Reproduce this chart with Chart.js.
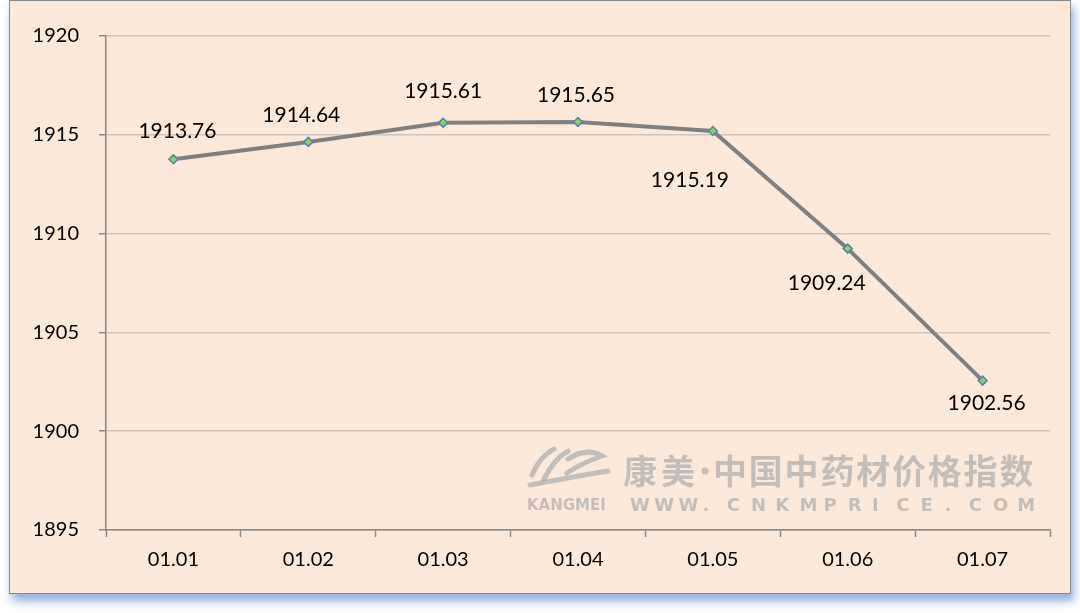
<!DOCTYPE html>
<html><head><meta charset="utf-8">
<script src="https://cdn.jsdelivr.net/npm/chart.js@4.4.1/dist/chart.umd.min.js"></script>
<style>
html,body{margin:0;padding:0;background:#fff;width:1080px;height:613px;overflow:hidden;}
#box{position:absolute;left:9px;top:0px;width:1060px;height:592px;border:1px solid #8a8a8a;background:#fde9d9;box-shadow:3px 7px 9px rgba(70,120,200,0.6);}
canvas{display:block;}
</style></head>
<body>
<div id="box"><canvas id="c" width="1060" height="592"></canvas></div>
<script>
const categories = ['01.01','01.02','01.03','01.04','01.05','01.06','01.07'];
const values = [1913.76, 1914.64, 1915.61, 1915.65, 1915.19, 1909.24, 1902.56];
const valueLabels = ['1913.76','1914.64','1915.61','1915.65','1915.19','1909.24','1902.56'];
const yTicks = [1895, 1900, 1905, 1910, 1915, 1920];

const labelPlugin = {
  id: 'pointLabels',
  afterDatasetsDraw(chart, args, opts) {
    const ctx = chart.ctx;
    const meta = chart.getDatasetMeta(0);
    ctx.save();
    ctx.font = '21px Lato';
    ctx.fillStyle = '#000';
    ctx.textAlign = 'center';
    ctx.textBaseline = 'middle';
    meta.data.forEach((p, i) => {
      const o = opts.offsets[i];
      ctx.fillText(valueLabels[i], p.x + o[0], p.y + o[1]);
    });
    ctx.restore();
  }
};

const watermark = {
  id: 'watermark',
  beforeDatasetsDraw(chart) {
    const ctx = chart.ctx;
    ctx.save();
    ctx.fillStyle = 'rgba(150,155,160,0.55)';
    ctx.strokeStyle = 'rgba(150,155,160,0.55)';
    ctx.lineWidth = 5;
    ctx.lineCap = 'round';
    ctx.beginPath(); ctx.moveTo(522,474); ctx.quadraticCurveTo(530,455,544,448); ctx.stroke();
    ctx.beginPath(); ctx.moveTo(534,478); ctx.quadraticCurveTo(544,458,558,450); ctx.stroke();
    ctx.beginPath(); ctx.moveTo(558,458); ctx.quadraticCurveTo(577,446,592,455); ctx.quadraticCurveTo(572,462,557,472); ctx.stroke();
    ctx.beginPath(); ctx.moveTo(520,484); ctx.quadraticCurveTo(562,476,598,470); ctx.stroke();
    ctx.font = 'bold 34px "Noto Sans CJK SC"';
    ctx.textBaseline = 'middle';
    ctx.textAlign = 'left';
    ctx.fillText('康', 613, 470);
    ctx.fillText('美', 651, 470);
    ctx.beginPath(); ctx.arc(695, 470, 3.5, 0, Math.PI * 2); ctx.fill();
    const cn = '中国中药材价格指数';
    for (let i = 0; i < cn.length; i++) ctx.fillText(cn[i], 703 + i * 35.8, 470);
    ctx.font = 'bold 15px "DejaVu Sans"';
    ctx.fillText('KANGMEI', 517, 505);
    ctx.font = 'bold 18px "DejaVu Sans"';
    const s = 'WWW.CNKMPRICE.COM';
    let x = 620;
    for (const ch of s) { ctx.fillText(ch, x, 505); x += 24.2; }
    ctx.restore();
  }
};

new Chart(document.getElementById('c'), {
  type: 'line',
  data: {
    labels: categories,
    datasets: [{
      data: values,
      borderColor: '#808080',
      borderWidth: 4,
      tension: 0,
      pointStyle: 'rectRot',
      pointRadius: 4.5,
      pointBackgroundColor: '#92d050',
      pointBorderColor: '#4f81bd',
      pointBorderWidth: 1.5
    }]
  },
  options: {
    responsive: false,
    animation: false,
    devicePixelRatio: 1,
    layout: { padding: { left: 0, top: 35, right: 20, bottom: 0 } },
    plugins: {
      legend: { display: false },
      tooltip: { enabled: false },
      pointLabels: { offsets: [[4,-28],[-7,-27],[0,-32],[-2,-27],[-23,49],[-21,35],[4,23]] }
    },
    scales: {
      x: {
        offset: true,
        grid: { drawOnChartArea: false, offset: true, tickLength: 7, tickColor: '#888', tickWidth: 1.5 },
        border: { color: '#888', width: 1.5 },
        ticks: { font: { family: 'Lato', size: 20 }, color: '#000', padding: 11, maxRotation: 0 },
        afterFit(s) { s.height = 63; }
      },
      y: {
        min: 1895, max: 1920,
        afterBuildTicks(s) { s.ticks = yTicks.map(v => ({ value: v })); },
        grid: { color: '#cdc5bd', lineWidth: 1.5, tickLength: 7, tickColor: '#888', tickWidth: 1.5 },
        border: { color: '#888', width: 1.5 },
        ticks: { font: { family: 'Lato', size: 20 }, color: '#000', padding: 20, callback: v => String(v) },
        afterFit(s) { s.width = 96; }
      }
    }
  },
  plugins: [watermark, labelPlugin]
});
</script>
</body></html>
